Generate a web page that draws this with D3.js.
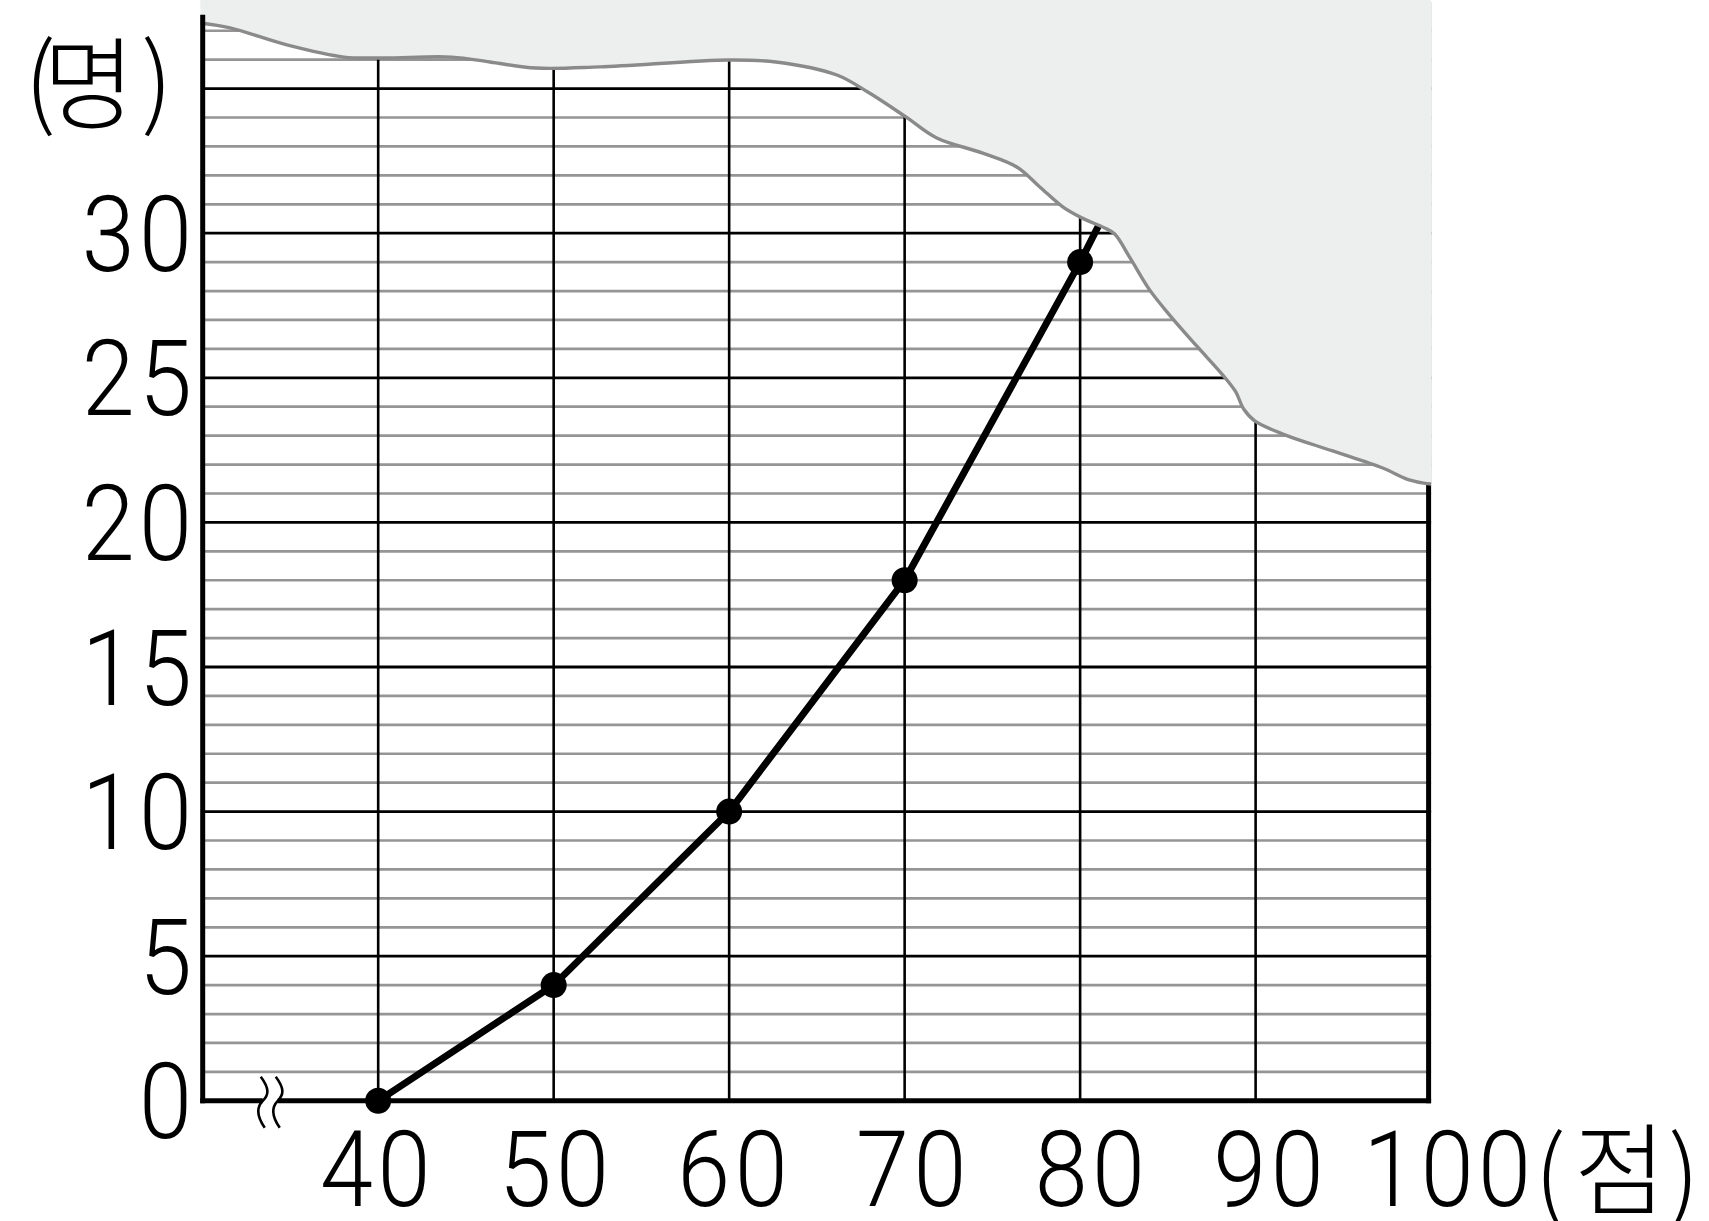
<!DOCTYPE html>
<html>
<head>
<meta charset="utf-8">
<script src="https://cdn.jsdelivr.net/npm/d3@7"></script>
<style>
  html, body { margin: 0; padding: 0; background: #ffffff; }
  svg { display: block; }
</style>
</head>
<body>
<svg id="chart" width="1709" height="1221"></svg>
<script>
// ---------- data ----------
const scores = [40, 50, 60, 70, 80, 90];          // 점
const cumulative = [0, 4, 10, 18, 29, 41];         // 명 (90점 value hidden under the torn edge, estimated from the visible stub)
const yTickValues = [0, 5, 10, 15, 20, 25, 30];
const xTickValues = [40, 50, 60, 70, 80, 90, 100];
const yUnitLabel = "명";
const xUnitLabel = "점";
// torn-paper edge, in chart units (score, count)
const tornEdgeX = [29.89, 31.56, 34.80, 38.05, 40.27, 44.20, 46.37, 48.99, 52.63, 59.99, 62.66, 66.14, 67.90, 70.07, 71.83, 74.45, 76.39, 77.70, 79.01, 80.09, 81.40, 81.97, 82.88, 83.96, 85.10, 86.64, 88.18, 88.87, 89.32, 89.95, 91.71, 94.39, 97.24, 98.61, 99.58, 100.0];
const tornEdgeY = [37.27, 37.10, 36.51, 36.09, 36.06, 36.09, 35.92, 35.71, 35.75, 35.99, 35.92, 35.47, 34.88, 34.02, 33.29, 32.77, 32.29, 31.60, 30.91, 30.53, 30.18, 29.97, 29.11, 28.04, 27.17, 26.10, 25.06, 24.51, 23.92, 23.51, 23.02, 22.47, 21.88, 21.50, 21.36, 21.33];

// ---------- scales ----------
const svg = d3.select("#chart");
const x = d3.scaleLinear().domain([30, 100]).range([202.7, 1431.1]);
const y = d3.scaleLinear().domain([0, 38]).range([1100.8, 1100.8 - 38 * 28.92]);
const labelX = d3.scaleLinear().domain([40, 100]).range([x(40) - 3, x(100) + 16]);

const DIGIT_FONT = "Roboto, 'Liberation Sans', Arial, sans-serif";
const KR_FONT = "'Noto Sans CJK KR', 'Noto Sans CJK SC', sans-serif";
const digitSize = 106;
const digitHalf = digitSize * 0.711 / 2;
const squeeze = 0.9;
const spacing = 5;

// ---------- grid ----------
const grid = svg.append("g");
const minor = d3.range(1, 38).filter(v => v % 5 !== 0);
const major = d3.range(5, 36, 5);
grid.selectAll("line.minor").data(minor).join("line")
  .attr("x1", x(30)).attr("x2", x(100))
  .attr("y1", d => y(d)).attr("y2", d => y(d))
  .attr("stroke", "#959595").attr("stroke-width", 2.7);
grid.selectAll("line.major").data(major).join("line")
  .attr("x1", x(30)).attr("x2", x(100))
  .attr("y1", d => y(d)).attr("y2", d => y(d))
  .attr("stroke", "#000").attr("stroke-width", 2.8);
grid.selectAll("line.vert").data(xTickValues.filter(v => v < 100)).join("line")
  .attr("x1", d => x(d)).attr("x2", d => x(d))
  .attr("y1", y(0)).attr("y2", y(38))
  .attr("stroke", "#000").attr("stroke-width", 2.6);
// right border
grid.append("line")
  .attr("x1", x(100) - 2.5).attr("x2", x(100) - 2.5)
  .attr("y1", y(0) + 2.5).attr("y2", y(38))
  .attr("stroke", "#000").attr("stroke-width", 5);

// ---------- data line ----------
const pts = scores.map((s, i) => [s, cumulative[i]]);
svg.append("path")
  .datum(pts)
  .attr("fill", "none")
  .attr("stroke", "#000")
  .attr("stroke-width", 7)
  .attr("stroke-linejoin", "round")
  .attr("d", d3.line().x(d => x(d[0])).y(d => y(d[1])));
svg.selectAll("circle.dot").data(pts).join("circle")
  .attr("cx", d => x(d[0])).attr("cy", d => y(d[1]))
  .attr("r", 13).attr("fill", "#000");

// ---------- torn paper ----------
const edge = tornEdgeX.map((v, i) => [v, tornEdgeY[i]]);
const edgeLine = d3.line().x(d => x(d[0])).y(d => y(d[1])).curve(d3.curveCatmullRom.alpha(0.5));
const edgeD = edgeLine(edge);
svg.append("path")
  .attr("d", edgeD + `L${x(100)},${y(38.2)}L${x(29.85)},${y(38.2)}Z`)
  .attr("fill", "#edefee").attr("stroke", "none");
svg.append("path")
  .attr("d", edgeD)
  .attr("fill", "none").attr("stroke", "#8a8a8a").attr("stroke-width", 3.4);

// ---------- axes ----------
const axes = svg.append("g");
axes.append("line")
  .attr("x1", x(30)).attr("x2", x(30))
  .attr("y1", y(37.55)).attr("y2", y(0) + 2.5)
  .attr("stroke", "#000").attr("stroke-width", 5);
const breakAt = 33.85;
const bx = x(breakAt);
axes.append("line")
  .attr("x1", x(30) - 2.5).attr("x2", bx - 7.5)
  .attr("y1", y(0)).attr("y2", y(0))
  .attr("stroke", "#000").attr("stroke-width", 5);
axes.append("line")
  .attr("x1", bx + 7.5).attr("x2", x(100))
  .attr("y1", y(0)).attr("y2", y(0))
  .attr("stroke", "#000").attr("stroke-width", 5);
[-7.5, 7.5].forEach(off => {
  const cx = bx + off, cy = y(0);
  axes.append("path")
    .attr("d", `M${cx - 2},${cy - 24} C${cx + 7},${cy - 12} ${cx + 6},${cy - 6} ${cx},${cy} C${cx - 6},${cy + 6} ${cx - 7},${cy + 14} ${cx + 2},${cy + 27}`)
    .attr("fill", "none").attr("stroke", "#000").attr("stroke-width", 2.6);
});

// ---------- tick labels ----------
function digitText(sel, anchor) {
  sel.append("text")
    .attr("transform", `scale(${squeeze},1)`)
    .attr("text-anchor", anchor)
    .attr("dx", anchor === "end" ? spacing : (anchor === "middle" ? spacing / 2 : 0))
    .attr("font-family", DIGIT_FONT).attr("font-weight", 300)
    .attr("font-size", digitSize).attr("letter-spacing", spacing)
    .attr("fill", "#000")
    .text(d => d);
}
svg.selectAll("g.ylab").data(yTickValues).join("g")
  .attr("class", "ylab")
  .attr("transform", d => `translate(192,${y(d) + digitHalf})`)
  .call(digitText, "end");

svg.selectAll("g.xlab").data(xTickValues).join("g")
  .attr("class", "xlab")
  .attr("transform", d => `translate(${labelX(d)},${1168 + digitHalf})`)
  .call(digitText, "middle");

// ---------- unit labels ----------
function unitLabel(xs, ys, sizes, word) {
  const t = svg.append("text")
    .attr("font-family", KR_FONT).attr("font-weight", 300)
    .attr("fill", "#000")
    .attr("text-anchor", "middle").attr("dominant-baseline", "central");
  ["(", word, ")"].forEach((ch, i) => {
    t.append("tspan").attr("x", xs[i]).attr("y", ys[i]).attr("font-size", sizes[i]).text(ch);
  });
}
unitLabel([40, 89, 157], [73, 77, 73], [100, 100, 100], yUnitLabel);
unitLabel([1550, 1620, 1684], [1166, 1163, 1166], [100, 100, 100], xUnitLabel);
</script>
</body>
</html>
